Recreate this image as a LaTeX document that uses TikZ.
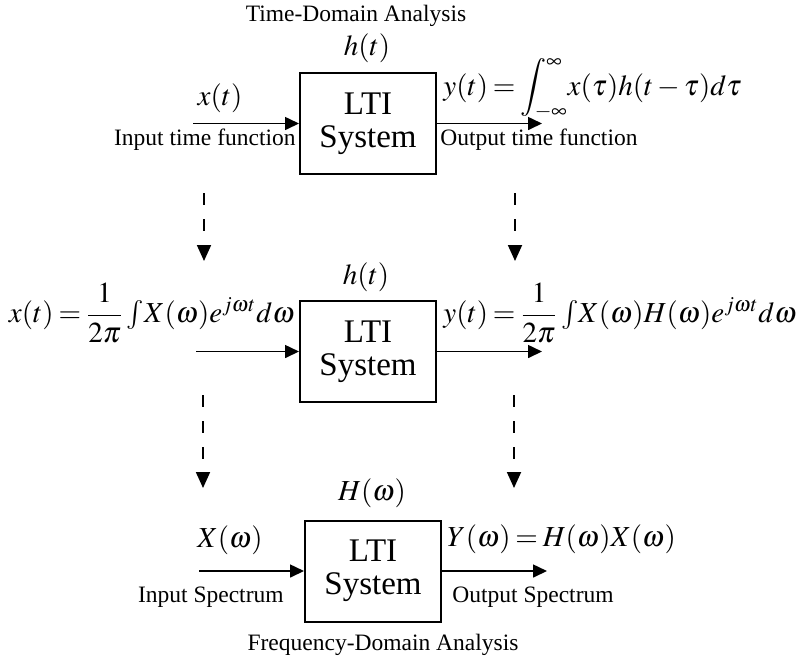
\documentclass[tikz,border=0pt]{standalone}
\usepackage{amsmath}
\usepackage{mathptmx}
\usepackage{fontspec}
\setmainfont{Liberation Serif}
\usetikzlibrary{arrows.meta}
\thickmuskip=3mu plus 2mu
\tikzset{
  lti box/.style={
    draw,
    line width=1pt,
    minimum width=68pt,
    minimum height=50.5pt,
    inner sep=0pt,
    align=center,
    font=\fontsize{16.5}{16.5}\selectfont
  },
  sig arrow/.style={
    -{Triangle[length=7pt, width=6.5pt]},
    line width=0.8pt
  },
  map arrow/.style={
    -{Triangle[length=8pt, width=7pt]},
    line width=0.9pt,
    dash pattern=on 6pt off 7pt
  },
  side label/.style={
    inner sep=0pt,
    font=\fontsize{11.75}{14}\selectfont
  },
  math label/.style={
    inner sep=0pt,
    font=\fontsize{14.5}{17}\selectfont
  }
}

\begin{document}
\begin{tikzpicture}[x=0.5pt, y=-0.5pt]
    % 画布 (1单位 = 1像素)
    \useasboundingbox (0,0) rectangle (797,661);

    % 时域分析
    \node[side label] (title1) at (356,16) {Time-Domain Analysis};
    \node[math label] (h1) at (367,48) {$h(t)$};
    \node[lti box] (box1) at (368,123.5) {LTI\\System};
    \coordinate (in1) at (193,123.5);
    \coordinate (out1) at (542,123.5);
    \draw[sig arrow] (in1) -- (box1.west);
    \draw[sig arrow] (box1.east) -- (out1);
    \node[math label] (x1) at (220,98) {$x(t)$};
    \node[side label, anchor=base east] (inlab1) at (296,145) {Input time function};
    \node[math label, anchor=base west] (y1) at (443,95)
      {$y(t)=\displaystyle\int\nolimits_{-\infty}^{\infty}\!x(\tau)h(t-\tau)d\tau$};
    \node[side label, anchor=base west] (outlab1) at (440,145) {Output time function};

    % 时域 -> 傅里叶表示
    \coordinate (d1a) at (204,193);
    \coordinate (d1b) at (204,261);
    \coordinate (d2a) at (515,193);
    \coordinate (d2b) at (515,261);
    \draw[map arrow] (d1a) -- (d1b);
    \draw[map arrow] (d2a) -- (d2b);

    % 傅里叶积分表示
    \node[math label] (h2) at (366,277) {$h(t)$};
    \node[lti box] (box2) at (368,351.5) {LTI\\System};
    \coordinate (in2) at (196,351.5);
    \coordinate (out2) at (542,351.5);
    \draw[sig arrow] (in2) -- (box2.west);
    \draw[sig arrow] (box2.east) -- (out2);
    \node[math label, anchor=east] (x2) at (295,313)
      {$x(t)=\dfrac{1}{2\pi}\int\!X(\omega)e^{j\omega t}d\omega$};
    \node[math label, anchor=west] (y2) at (443,313)
      {$y(t)=\dfrac{1}{2\pi}\int\!X(\omega)H(\omega)e^{j\omega t}d\omega$};

    % 傅里叶表示 -> 频域
    \coordinate (d3a) at (203,395);
    \coordinate (d3b) at (203,488);
    \coordinate (d4a) at (514,395);
    \coordinate (d4b) at (514,488);
    \draw[map arrow] (d3a) -- (d3b);
    \draw[map arrow] (d4a) -- (d4b);

    % 频域分析
    \node[math label] (h3) at (372,493) {$H(\omega)$};
    \node[lti box] (box3) at (373,571) {LTI\\System};
    \coordinate (in3) at (199,571);
    \coordinate (out3) at (547,571);
    \draw[sig arrow] (in3) -- (box3.west);
    \draw[sig arrow] (box3.east) -- (out3);
    \node[math label] (x3) at (230,540) {$X(\omega)$};
    \node[side label, anchor=base east] (inlab3) at (284,602) {Input Spectrum};
    \node[math label, anchor=base west] (y3) at (447,546) {$Y(\omega)=H(\omega)X(\omega)$};
    \node[side label, anchor=base west] (outlab3) at (452,602) {Output Spectrum};
    \node[side label] (title3) at (383,645) {Frequency-Domain Analysis};

\end{tikzpicture}
\end{document}
